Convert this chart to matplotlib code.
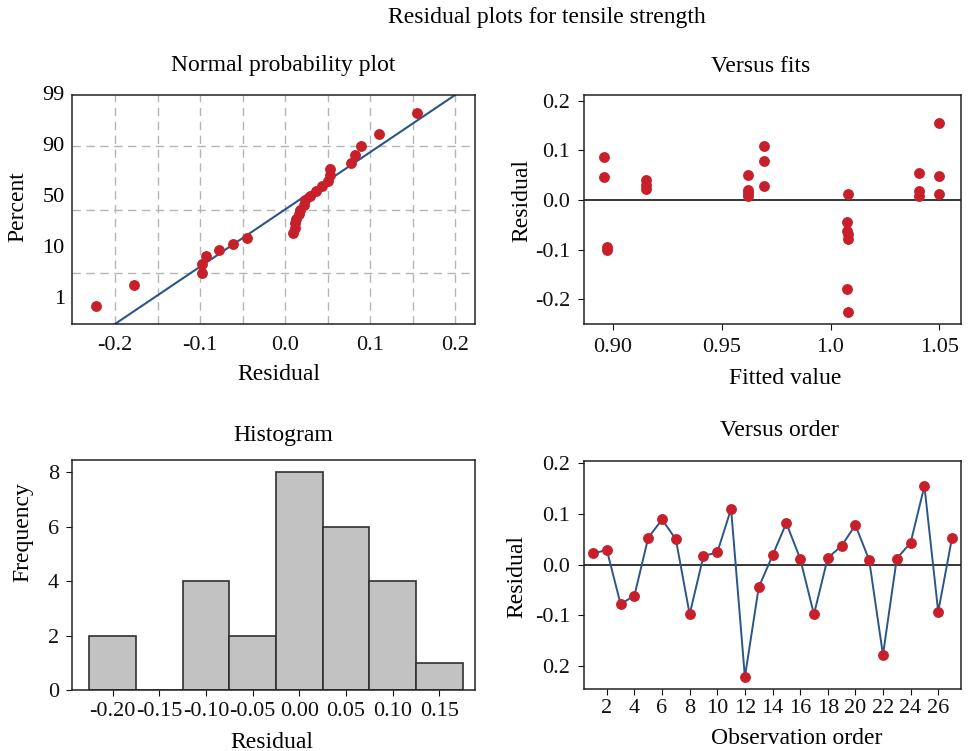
import numpy as np
import matplotlib
matplotlib.use("Agg")
import matplotlib.pyplot as plt
from matplotlib import transforms as mtrans
from statistics import NormalDist

# ---------------- data ----------------
order_residuals = [0.022, 0.029, -0.078, -0.061, 0.053, 0.089, 0.050, -0.098, 0.017,
                   0.024, 0.110, -0.222, -0.045, 0.018, 0.082, 0.012, -0.098, 0.013,
                   0.037, 0.078, 0.009, -0.178, 0.012, 0.043, 0.155, -0.093, 0.053]
observation = list(range(1, len(order_residuals) + 1))

fitted_values = [0.8961, 0.8961, 0.8972, 0.8972,
                 0.9152, 0.9152, 0.9152,
                 0.9620, 0.9620, 0.9620, 0.9620,
                 0.9696, 0.9696, 0.9696,
                 1.0082, 1.0075, 1.0075, 1.0080, 1.0082, 1.0075, 1.0082,
                 1.0406, 1.0406, 1.0406,
                 1.0500, 1.0500, 1.0500]
fit_residuals = [0.087, 0.046, -0.094, -0.101,
                 0.040, 0.030, 0.022,
                 0.050, 0.020, 0.013, 0.008,
                 0.109, 0.079, 0.029,
                 0.012, -0.045, -0.062, -0.068, -0.079, -0.179, -0.226,
                 0.055, 0.019, 0.008,
                 0.156, 0.049, 0.012]

line_mu, line_sigma = 0.0, 0.086          # fitted normal line
hist_edges = [-0.225, -0.175, -0.125, -0.075, -0.025, 0.025, 0.075, 0.125, 0.175]
hist_xticks = [-0.20, -0.15, -0.10, -0.05, 0.00, 0.05, 0.10, 0.15]
hist_xlabels = ["-0.20", "-0.15", "-0.10", "-0.05", "0.00", "0.05", "0.10", "0.15"]
pct_labels = ["99", "90", "50", "10", "1"]
pct_grid = [10, 50, 90]
fit_xticks = [0.90, 0.95, 1.00, 1.05]
fit_xlabels = ["0.90", "0.95", "1.0", "1.05"]
res_ticks = [-0.2, -0.1, 0.0, 0.1, 0.2]
fit_ylabels = ["-0.2", "-0.1", "0.0", "0.1", "0.2"]
order_ylabels = ["0.2", "-0.1", "0.0", "0.1", "0.2"]
order_xticks = list(range(2, 27, 2))

# ---------------- style ----------------
plt.rcParams['font.family'] = ['Liberation Serif', 'DejaVu Serif']
RED = '#c8202a'
BLUE = '#2a5688'
W, H = 979, 751
fig = plt.figure(figsize=(W / 100, H / 100), dpi=100)


def rect(l, r, t, b):
    return [l / W, 1 - b / H, (r - l) / W, (b - t) / H]


def ftext(x, y, s, **kw):
    fig.text(x / W, 1 - y / H, s, ha='center', va='center', **kw)


def style(ax):
    for sp in ax.spines.values():
        sp.set_linewidth(1.1)
        sp.set_color('#222222')
    ax.tick_params(labelsize=16, colors='#111111', width=0.8)


nd = NormalDist()

# ---------- Normal probability plot ----------
ax1 = fig.add_axes(rect(71.7, 475, 95, 324))
style(ax1)
srt = np.sort(np.array(order_residuals))
n = len(srt)
pp = (np.arange(1, n + 1) - 0.3) / (n + 0.4)
zz = np.array([nd.inv_cdf(p) for p in pp])
zlo, zhi = nd.inv_cdf(0.01), nd.inv_cdf(0.99)
ax1.set_xlim(-0.251, 0.2235)
ax1.set_ylim(zlo, zhi)
for xv in np.arange(-0.2, 0.2001, 0.05):
    ax1.axvline(xv, color='#b5b5b5', lw=1.0, ls=(0, (6, 4)), zorder=0)
for pv in pct_grid:
    ax1.axhline(nd.inv_cdf(pv / 100), color='#b5b5b5', lw=1.0, ls=(0, (6, 4)), zorder=0)
xl = np.array([-0.3, 0.3])
ax1.plot(xl, (xl - line_mu) / line_sigma, color=BLUE, lw=1.5, zorder=2)
ax1.plot(srt, zz, 'o', color=RED, ms=6.8, zorder=3)
ax1.set_xticks([-0.2, -0.1, 0.0, 0.1, 0.2])
ax1.set_xticklabels(["-0.2", "-0.1", "0.0", "0.1", "0.2"])
ax1.tick_params(axis='x', length=0, pad=9)
ax1.set_yticks([])
label_pct_pos = [99, 90, 50, 10, 1]
label_dy = [0, 0, 11.7, 24.3, 24]
btrans = mtrans.blended_transform_factory(ax1.transAxes, ax1.transData)
for lab, pv, dy in zip(pct_labels, label_pct_pos, label_dy):
    tr = mtrans.offset_copy(btrans, fig=fig, y=dy, units='dots')
    ax1.text(-0.017, nd.inv_cdf(pv / 100), lab, transform=tr, ha='right',
             va='center', fontsize=16)

# ---------- Versus fits ----------
ax2 = fig.add_axes(rect(584, 961, 95, 324))
style(ax2)
ax2.set_xlim(0.8868, 1.0599)
ax2.set_ylim(-0.250, 0.2115)
ax2.axhline(0, color='black', lw=1.1, zorder=1)
ax2.plot(fitted_values, fit_residuals, 'o', color=RED, ms=6.8, zorder=3, ls='none')
ax2.set_xticks(fit_xticks)
ax2.set_xticklabels(fit_xlabels)
ax2.set_yticks(res_ticks)
ax2.set_yticklabels(fit_ylabels)
ax2.tick_params(length=4, pad=6)

# ---------- Histogram ----------
ax3 = fig.add_axes(rect(71.7, 475, 460, 690))
style(ax3)
ax3.hist(order_residuals, bins=hist_edges, color='#c2c2c2', edgecolor='#303030',
         linewidth=1.2)
ax3.set_xlim(-0.2439, 0.1882)
ax3.set_ylim(0, 8.45)
ax3.set_xticks(hist_xticks)
ax3.set_xticklabels(hist_xlabels)
ax3.set_yticks([0, 2, 4, 6, 8])
ax3.tick_params(length=4, pad=5)

# ---------- Versus order ----------
ax4 = fig.add_axes(rect(584.3, 961, 460.7, 689.3))
style(ax4)
ax4.set_xlim(0.37, 27.65)
ax4.set_ylim(-0.246, 0.205)
ax4.axhline(0, color='black', lw=1.1, zorder=1)
ax4.plot(observation, order_residuals, '-', color=BLUE, lw=1.4, zorder=2)
ax4.plot(observation, order_residuals, 'o', color=RED, ms=6.8, zorder=3)
ax4.set_xticks(order_xticks)
ax4.set_yticks(res_ticks)
ax4.set_yticklabels(order_ylabels)
ax4.tick_params(length=4, pad=6)
ax4.tick_params(axis='x', pad=3)

# ---------- titles and labels ----------
ftext(547, 18, "Residual plots for tensile strength", fontsize=17)
ftext(283, 66, "Normal probability plot", fontsize=17)
ftext(761, 66, "Versus fits", fontsize=17)
ftext(283, 435, "Histogram", fontsize=17)
ftext(779, 430, "Versus order", fontsize=17)

ftext(279, 375, "Residual", fontsize=17)
ftext(18, 207, "Percent", fontsize=17, rotation=90)
ftext(785, 378, "Fitted value", fontsize=17)
ftext(522, 201, "Residual", fontsize=17, rotation=90)
ftext(272, 742, "Residual", fontsize=17)
ftext(23, 532, "Frequency", fontsize=17, rotation=90)
ftext(797, 738, "Observation order", fontsize=17)
ftext(517, 576, "Residual", fontsize=17, rotation=90)

fig.savefig("out.png", dpi=100)
